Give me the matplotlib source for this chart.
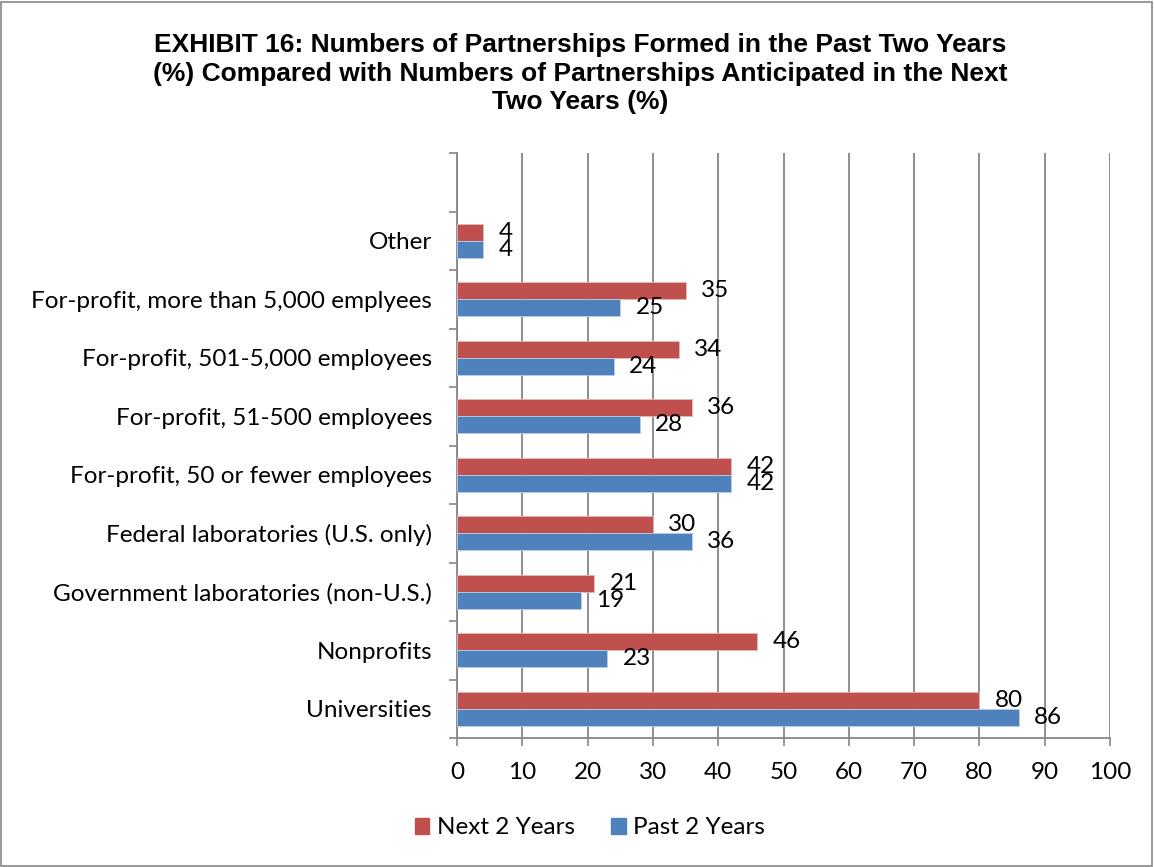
import matplotlib.pyplot as plt
import numpy as np
from matplotlib.patches import Rectangle

categories = ['Universities', 'Nonprofits', 'Government laboratories (non-U.S.)',
              'Federal laboratories (U.S. only)', 'For-profit, 50 or fewer employees',
              'For-profit, 51-500 employees', 'For-profit, 501-5,000 employees',
              'For-profit, more than 5,000 emplyees', 'Other', '']
next_2_years = [80, 46, 21, 30, 42, 36, 34, 35, 4, None]
past_2_years = [86, 23, 19, 36, 42, 28, 24, 25, 4, None]

RED = '#C0504D'
BLUE = '#4F81BD'
GRID = '#868686'
FONT = 'Lato'
FS = 17.5

fig = plt.figure(figsize=(11.54, 8.67), dpi=100)
ax = fig.add_axes([457 / 1154, 1 - 738 / 867, 653 / 1154, 585 / 867])

y = np.arange(len(categories))
h = 0.29
for i in range(len(categories)):
    if next_2_years[i] is None:
        continue
    nv, pv = next_2_years[i], past_2_years[i]
    ax.barh(y[i] + h / 2, nv, height=h, color=RED, edgecolor='#E6B9B8', linewidth=0.6, zorder=3)
    ax.barh(y[i] - h / 2, pv, height=h, color=BLUE, edgecolor='#B9CDE5', linewidth=0.6, zorder=3)
    ax.annotate(str(nv), (nv, y[i] + h / 2), xytext=(11, 0), textcoords='offset points',
                va='center', ha='left', fontsize=FS, family=FONT, zorder=4)
    ax.annotate(str(pv), (pv, y[i] - h / 2), xytext=(11, 0), textcoords='offset points',
                va='center', ha='left', fontsize=FS, family=FONT, zorder=4)

ax.set_xlim(0, 100)
ax.set_xticks(range(0, 101, 10))
ax.set_ylim(-0.5, len(categories) - 0.5)
ax.set_yticks(y)
ax.set_yticklabels(categories)
ax.set_yticks(np.arange(-0.5, len(categories), 1), minor=True)
ax.tick_params(axis='y', which='major', length=0, pad=18)
ax.tick_params(axis='y', which='minor', length=6, color=GRID, width=1.2)
ax.tick_params(axis='x', length=6, color=GRID, width=1.2, pad=11)
for lab in ax.get_xticklabels() + ax.get_yticklabels():
    lab.set_fontfamily(FONT)
    lab.set_fontsize(FS)

ax.grid(axis='x', color=GRID, linewidth=1.3, zorder=0)
for s in ['top', 'right']:
    ax.spines[s].set_visible(False)
for s in ['left', 'bottom']:
    ax.spines[s].set_color(GRID)
    ax.spines[s].set_linewidth(1.3)

fig.text(0.503, 1 - 33 / 867,
         'EXHIBIT 16: Numbers of Partnerships Formed in the Past Two Years\n'
         '(%) Compared with Numbers of Partnerships Anticipated in the Next\n'
         'Two Years (%)',
         ha='center', va='top', fontsize=19, fontweight='bold',
         family='Liberation Sans', linespacing=1.25)

handles = [Rectangle((0, 0), 1, 1, color=RED), Rectangle((0, 0), 1, 1, color=BLUE)]
fig.legend(handles, ['Next 2 Years', 'Past 2 Years'], loc='center',
           bbox_to_anchor=(0.511, 1 - 828 / 867), ncol=2, frameon=False,
           prop={'family': FONT, 'size': FS}, handlelength=0.6, handleheight=0.6,
           handletextpad=0.3, columnspacing=1.5)

fig.add_artist(Rectangle((0.001, 0.001), 0.997, 0.997, transform=fig.transFigure,
                         fill=False, edgecolor='#868686', linewidth=1.2))

fig.savefig('out.png', dpi=100)
